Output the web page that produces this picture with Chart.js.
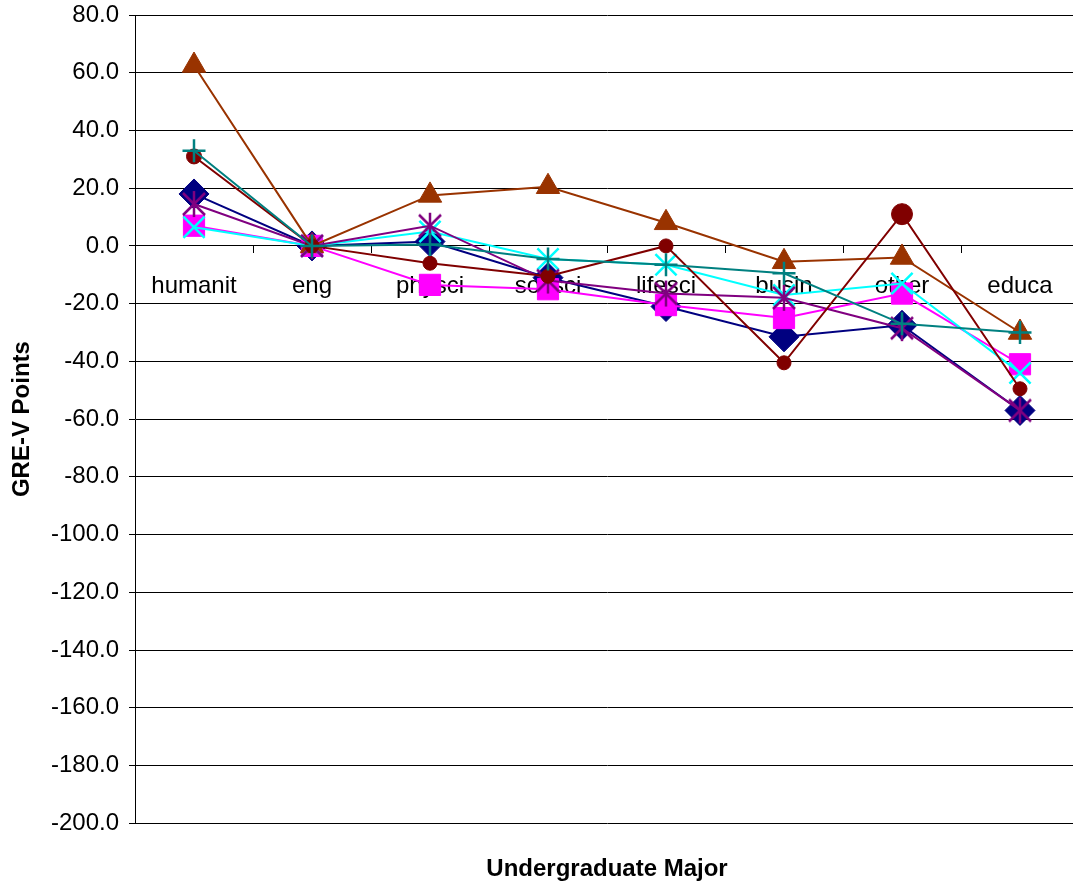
<!DOCTYPE html>
<html>
<head>
<meta charset="utf-8">
<script src="https://cdn.jsdelivr.net/npm/chart.js@4"></script>
<style>
  html, body { margin: 0; padding: 0; background: #fff; overflow: hidden; }
  #wrap { width: 1079px; height: 884px; }
</style>
</head>
<body>
<div id="wrap"><canvas id="gre-chart"></canvas></div>
<script>
// categories (x axis)
const majors = ['humanit', 'eng', 'physci', 'socsci', 'lifesci', 'busin', 'other', 'educa'];

// y axis range / tick step
const yMin = -200;
const yMax = 80;
const yStep = 20;

// series values (GRE-V points)
const navyDiamond   = [18, 0, 1.5, -11, -21, -31.5, -27.5, -57];
const pinkSquare    = [7, 0, -13.5, -15, -20.5, -25, -16.5, -41];
const brownTriangle = [62.5, 0, 17.5, 20.5, 8, -5.5, -4, -30];
const cyanX         = [6.5, 0, 5, -4.5, -6.5, -17, -13, -44];
const purpleStar    = [14.5, 0, 7, -12, -16.5, -18, -28.5, -57];
const redCircle     = [31, 0, -6, -10.5, 0, -40.5, 11, -49.5];
const tealPlus      = [33, 0, 0.5, -4.5, -6.5, -9.5, -27, -30];

Chart.defaults.font.family = "'Liberation Sans', Arial, sans-serif";

// Excel style "star" marker: an X with a vertical bar through it
function makeStarMarker(color) {
  const c = document.createElement('canvas');
  c.width = 26; c.height = 28;
  const g = c.getContext('2d');
  g.strokeStyle = color;
  g.lineWidth = 2.5;
  g.beginPath();
  g.moveTo(13, 1);  g.lineTo(13, 27);
  g.moveTo(2, 3);   g.lineTo(24, 25);
  g.moveTo(24, 3);  g.lineTo(2, 25);
  g.stroke();
  return c;
}

function makeSeries(label, data, color, style, radius, order) {
  return {
    label: label,
    data: data,
    borderColor: color,
    backgroundColor: color,
    borderWidth: 2,
    pointStyle: style,
    pointRadius: radius,
    pointBackgroundColor: color,
    pointBorderColor: color,
    pointBorderWidth: 1,
    order: order
  };
}

const datasets = [
  makeSeries('S1', navyDiamond, '#000080', 'rectRot', 15, 7),
  makeSeries('S2', pinkSquare, '#FF00FF', 'rect', 15, 6),
  makeSeries('S3', brownTriangle, '#993300', 'triangle', 13.5, 5),
  makeSeries('S4', cyanX, '#00FFFF', 'crossRot', 15, 4),
  makeSeries('S5', purpleStar, '#800080', makeStarMarker('#800080'), 12, 3),
  makeSeries('S6', redCircle, '#800000', 'circle', [7.5, 7, 7, 7, 7, 7, 10.5, 7], 2),
  makeSeries('S7', tealPlus, '#008080', 'cross', 11.5, 1)
];
datasets[3].pointBorderWidth = 2.5;
datasets[6].pointBorderWidth = 2.5;

// drop the side padding chart.js reserves for the outer category labels
function noSidePadding(scale) {
  scale.paddingLeft = 0;
  scale.paddingRight = 0;
}

const ctx = document.getElementById('gre-chart').getContext('2d');
new Chart(ctx, {
  type: 'line',
  data: { labels: majors, datasets: datasets },
  options: {
    responsive: true,
    maintainAspectRatio: false,
    animation: false,
    layout: { autoPadding: false, padding: { top: 15, right: 0, left: 0, bottom: 0 } },
    elements: { line: { tension: 0 } },
    plugins: {
      legend: { display: false },
      tooltip: { enabled: false }
    },
    scales: {
      x: {
        type: 'category',
        position: { y: 0 },
        offset: true,
        grid: { offset: true, drawOnChartArea: false, color: '#000', tickLength: 7 },
        border: { color: '#000', width: 1 },
        ticks: { color: '#000', font: { size: 24 }, padding: 19, maxRotation: 0, autoSkip: false },
        afterFit: noSidePadding
      },
      x2: {
        type: 'category',
        axis: 'x',
        position: 'bottom',
        offset: true,
        grid: { display: false, drawOnChartArea: false, drawTicks: false },
        border: { display: false },
        ticks: { display: false },
        title: {
          display: true,
          text: 'Undergraduate Major',
          color: '#000',
          font: { size: 24, weight: 'bold' },
          padding: { top: 32, bottom: 0 }
        },
        afterFit: noSidePadding
      },
      y: {
        min: yMin,
        max: yMax,
        ticks: {
          stepSize: yStep,
          color: '#000',
          font: { size: 24 },
          padding: 10,
          callback: function(value) { return value.toFixed(1); }
        },
        grid: { color: '#000', tickLength: 6 },
        border: { color: '#000', width: 1 },
        title: {
          display: true,
          text: 'GRE-V Points',
          color: '#000',
          font: { size: 24, weight: 'bold' },
          padding: { top: 8, bottom: 0 }
        },
        afterFit: function(scale) {
          scale.width = 135;
          scale.paddingTop = 0;
          scale.paddingBottom = 0;
        }
      }
    }
  }
});
</script>
</body>
</html>
